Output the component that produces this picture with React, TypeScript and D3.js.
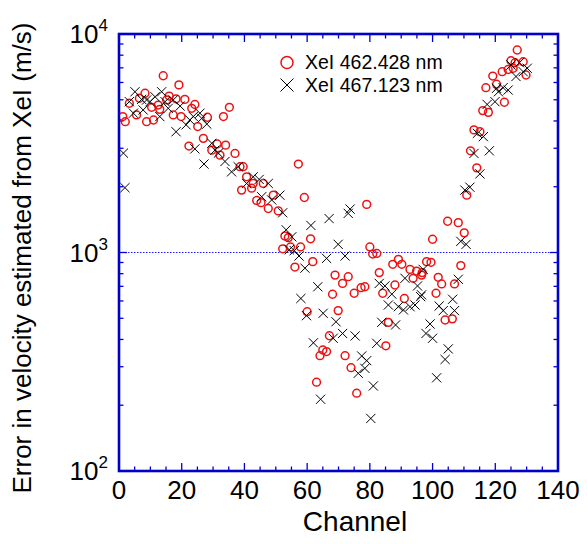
import React from "react";
import * as d3 from "d3";

const circleChannels = [
  1.2, 2, 3.3, 5.6, 6.5, 8.3, 8.8, 10.4, 11, 12.5, 13, 14.1, 15.2, 16, 17.3, 18.2, 19.1, 19.8,
  21, 22.3, 23.2, 24.2, 25.1, 26.9, 28.2, 29.6, 31.3, 32.2, 33.3, 34, 35.2, 37, 38.6, 39.1,
  39.6, 40.7, 42.3, 42.8, 43.9, 45.3, 46, 47.6, 49.2, 50.8, 52.2, 52.9, 54, 54.7, 56.1, 57.2,
  57.9, 59.1, 60, 61.1, 61.8, 63, 64.1, 65, 66.2, 67.1, 68.1, 68.9, 69.9, 71.3, 72.1, 73.1, 74,
  75, 75.8, 77.2, 78.4, 79, 80, 80.9, 82.2, 83, 84.1, 85.1, 85.9, 87.3, 88, 89.1, 90.2, 91,
  92.8, 93.8, 94.9, 96.5, 96.7, 98.1, 99.5, 100, 101.1, 101.8, 102.9, 104, 104.8, 106.3, 107,
  108.2, 109, 110.1, 110.9, 112.1, 113.2, 114.1, 115.1, 116, 117, 117.8, 119.2, 120.4, 122.2,
  122.9, 124.1, 125, 125.7, 126.3, 127, 128.9, 129.8,
];
const circleValues = [
  4190, 3970, 4820, 4260, 5080, 5360, 3970, 4620, 4040, 4730, 4520, 6440, 4990, 5200, 4260, 5050, 5850, 4190,
  5020, 3070, 4570, 4760, 3770, 3330, 4160, 2940, 3140, 2790, 4190, 3100, 4620, 2840, 2470, 1930,
  2470, 2220, 1970, 2070, 1730, 1690, 2070, 1590, 1830, 1550, 1040, 1190, 1170, 1060, 858, 2540,
  1060, 1785, 536, 1155, 908, 255, 337, 358, 352, 416, 644, 788, 542, 722, 337, 775, 297,
  651, 227, 690, 697, 1660, 1060, 984, 990, 809, 651, 374, 479, 883, 710, 930, 883, 616,
  837, 762, 822, 788, 809, 908, 902, 1150, 651, 770, 718, 491, 1390, 497, 718,
  1370, 871, 1230, 1830, 2920, 3640, 2440, 3570, 4460, 5680, 4380, 6420, 5890, 6720,
  4870, 6880, 7550, 6970, 7390, 8450, 7470, 6490,
];

const crossChannels = [
  1.4, 1.9, 3.3, 4.6, 5.1, 7.2, 7.7, 8.8, 9.9, 11.5, 13, 13.6, 14.7, 15.7, 17.3, 18.2, 19.5,
  21.4, 22.6, 23.7, 24.2, 25.8, 26.4, 27.1, 28, 29.6, 30.6, 31.7, 33.8, 35.9, 38, 40.7, 42.8,
  44.7, 45.5, 47.6, 48.7, 51.3, 52.2, 53.3, 54.3, 55.1, 55.9, 57.4, 58, 59.3, 59.8, 61.2, 62,
  63.4, 64.3, 65.1, 66.2, 67, 68.3, 69.2, 69.9, 71.3, 72.1, 73.1, 73.7, 75.3, 76.3, 77.4, 78.4,
  79, 80.3, 81.1, 82.2, 83, 83.8, 84.8, 85.9, 87, 88.2, 89.1, 90.7, 91.2, 92.8, 94.4, 95.2,
  96.2, 96.5, 97, 97.9, 99.2, 100, 101.3, 102.1, 103.4, 104, 105, 106.4, 107, 108.2, 109,
  110.3, 110.7, 111.9, 113.2, 114.3, 115.1, 116.2, 117.4, 118.1, 119.9, 120.4, 121, 122.5,
  124.1, 125, 126.6, 127.7, 128.9, 130.2,
];
const crossValues = [
  2850, 1980, 4900, 4340, 5440, 5020, 4490, 4990, 4900, 5160, 4190, 5440, 4900, 4570, 4990, 3570, 4680,
  3840, 4040, 4190, 2980, 4340, 4110, 2540, 3870, 3160, 2940, 2850, 2610, 2340, 2470, 2070, 2220,
  2160, 1800, 2070, 1740, 1830, 1520, 1270, 1030, 1180, 1020, 964, 616, 848, 514, 1330, 386,
  697, 213, 527, 940, 1430, 405, 482, 1090, 426, 964, 1510, 1580, 415, 280, 336, 295,
  320, 174, 245, 384, 722, 479, 703, 575, 645, 466, 565, 546, 762, 565, 575, 703,
  628, 640, 837, 426, 471, 405, 267, 569, 542, 324, 362, 611, 542, 754, 1125,
  1930, 1090, 1990, 2840, 3510, 2290, 3390, 4760, 2920, 4900, 5640, 5440, 5680,
  5540, 7210, 6390, 7390, 6720, 6970,
];

const xTicks = [0, 20, 40, 60, 80, 100, 120, 140];
const yDecades = [2, 3, 4];
const legendLabels = ["XeI 462.428 nm", "XeI 467.123 nm"];
const xTitle = "Channel";
const yTitle = "Error in velocity estimated from XeI (m/s)";

const FONT = "Arial, 'Liberation Sans', Helvetica, sans-serif";
const BLUE = "#0000cc";
const RED = "#ee1111";

export default function App() {
  const W = 587;
  const H = 544;
  const m = { left: 119, right: 558, top: 34, bottom: 471 };
  const x = d3.scaleLinear().domain([0, 140]).range([m.left, m.right]);
  const y = d3.scaleLog().domain([100, 10000]).range([m.bottom, m.top]);

  const minorX = d3.range(0, 141, 5).filter((v) => v % 20 !== 0);
  const minorY: number[] = [];
  [100, 1000].forEach((d) => {
    for (let k = 2; k <= 9; k++) minorY.push(k * d);
  });

  const majLen = 8;
  const minLen = 4.5;
  const cs = 4.6;

  return (
    <svg
      width={W}
      height={H}
      style={{ position: "absolute", left: 0, top: 0, background: "#fff" }}
      fontFamily={FONT}
    >
      {/* dotted reference line */}
      <line
        x1={m.left}
        x2={m.right}
        y1={y(1000)}
        y2={y(1000)}
        stroke="#1a1aff"
        strokeWidth={1}
        strokeDasharray="1.5,1.5"
      />

      {/* ticks */}
      <g stroke={BLUE} strokeWidth={1.3}>
        {xTicks.map((t) => (
          <g key={"xt" + t}>
            <line x1={x(t)} x2={x(t)} y1={m.bottom} y2={m.bottom - majLen} />
            <line x1={x(t)} x2={x(t)} y1={m.top} y2={m.top + majLen} />
          </g>
        ))}
        {minorX.map((t) => (
          <g key={"xm" + t}>
            <line x1={x(t)} x2={x(t)} y1={m.bottom} y2={m.bottom - minLen} />
            <line x1={x(t)} x2={x(t)} y1={m.top} y2={m.top + minLen} />
          </g>
        ))}
        {yDecades.map((d) => (
          <g key={"yt" + d}>
            <line x1={m.left} x2={m.left + majLen} y1={y(10 ** d)} y2={y(10 ** d)} />
            <line x1={m.right} x2={m.right - majLen} y1={y(10 ** d)} y2={y(10 ** d)} />
          </g>
        ))}
        {minorY.map((v) => (
          <g key={"ym" + v}>
            <line x1={m.left} x2={m.left + minLen} y1={y(v)} y2={y(v)} />
            <line x1={m.right} x2={m.right - minLen} y1={y(v)} y2={y(v)} />
          </g>
        ))}
      </g>

      {/* data: circles */}
      <g fill="none" stroke={RED} strokeWidth={1.5}>
        {circleChannels.map((c, i) => (
          <circle key={"c" + i} cx={x(c)} cy={y(circleValues[i])} r={3.9} />
        ))}
      </g>
      {/* data: crosses */}
      <g stroke="#000" strokeWidth={1}>
        {crossChannels.map((c, i) => {
          const px = x(c);
          const py = y(crossValues[i]);
          return (
            <path
              key={"x" + i}
              d={`M${px - cs},${py - cs}L${px + cs},${py + cs}M${px - cs},${py + cs}L${px + cs},${py - cs}`}
            />
          );
        })}
      </g>

      {/* frame */}
      <rect
        x={m.left}
        y={m.top}
        width={m.right - m.left}
        height={m.bottom - m.top}
        fill="none"
        stroke={BLUE}
        strokeWidth={2.6}
      />

      {/* x tick labels */}
      {xTicks.map((t) => (
        <text key={"xl" + t} x={x(t)} y={m.bottom + 28} textAnchor="middle" fontSize={26} fill="#000">
          {t}
        </text>
      ))}
      {/* y tick labels */}
      {yDecades.map((d) => (
        <text key={"yl" + d} x={m.left - 11} y={y(10 ** d) + 9} textAnchor="end" fontSize={26} fill="#000">
          10
          <tspan fontSize={17} dy={-12}>
            {d}
          </tspan>
        </text>
      ))}

      {/* axis titles */}
      <text x={355} y={531} textAnchor="middle" fontSize={28} fill="#000">
        {xTitle}
      </text>
      <text
        transform={`translate(31,258) rotate(-90)`}
        textAnchor="middle"
        fontSize={26}
        fill="#000"
      >
        {yTitle}
      </text>

      {/* legend */}
      <g>
        <circle cx={287} cy={62.5} r={6} fill="none" stroke={RED} strokeWidth={1.5} />
        <text x={305} y={69} fontSize={19.5} fill="#000">
          {legendLabels[0]}
        </text>
        <path d="M280.5,78.5L293.5,91.5M280.5,91.5L293.5,78.5" stroke="#000" strokeWidth={1} />
        <text x={305} y={92} fontSize={19.5} fill="#000">
          {legendLabels[1]}
        </text>
      </g>
    </svg>
  );
}
